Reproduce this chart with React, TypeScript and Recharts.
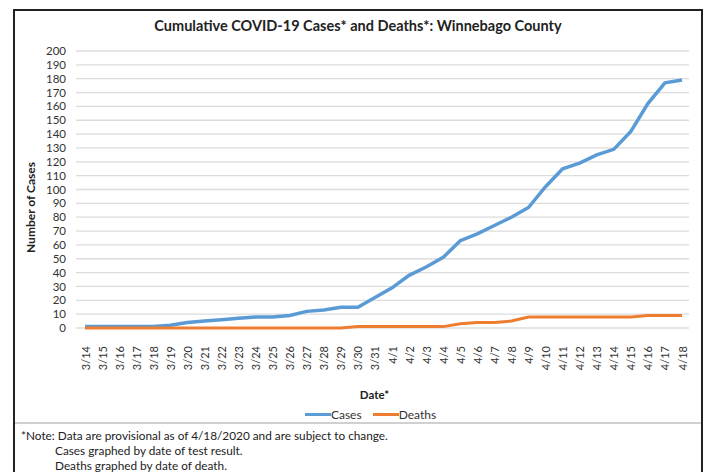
import { LineChart, Line, XAxis, YAxis, CartesianGrid, Legend, Label } from 'recharts';

const dates = [
  '3/14', '3/15', '3/16', '3/17', '3/18', '3/19', '3/20', '3/21', '3/22', '3/23', '3/24', '3/25',
  '3/26', '3/27', '3/28', '3/29', '3/30', '3/31', '4/1', '4/2', '4/3', '4/4', '4/5', '4/6',
  '4/7', '4/8', '4/9', '4/10', '4/11', '4/12', '4/13', '4/14', '4/15', '4/16', '4/17', '4/18',
];
const cases = [
  1, 1, 1, 1, 1, 2, 4, 5, 6, 7, 8, 8, 9, 12, 13, 15, 15, 22, 29, 38, 44, 51, 63, 68, 74, 80, 87,
  102, 115, 119, 125, 129, 142, 162, 177, 179,
];
const deaths = [
  0, 0, 0, 0, 0, 0, 0, 0, 0, 0, 0, 0, 0, 0, 0, 0, 1, 1, 1, 1, 1, 1, 3, 4, 4, 5, 8, 8, 8, 8, 8, 8,
  8, 9, 9, 9,
];
const yTicks = [0, 10, 20, 30, 40, 50, 60, 70, 80, 90, 100, 110, 120, 130, 140, 150, 160, 170, 180, 190, 200];

const title = 'Cumulative COVID-19 Cases* and Deaths*: Winnebago County';
const notes = [
  '*Note: Data are provisional as of 4/18/2020 and are subject to change.',
  'Cases graphed by date of test result.',
  'Deaths graphed by date of death.',
];

const data = dates.map((d, i) => ({ date: d, Cases: cases[i], Deaths: deaths[i] }));

const FONT = 'Lato, "Open Sans", sans-serif';
const BLUE = '#5b9bd5';
const ORANGE = '#ed7d31';

function DateTick(props: any) {
  const { x, y, payload } = props;
  return (
    <text
      x={x}
      y={y + 10}
      transform={`rotate(-90, ${x}, ${y + 10})`}
      textAnchor="end"
      dominantBaseline="central"
      fontSize={11}
      fontFamily={FONT}
      fill="#333"
    >
      {payload.value}
    </text>
  );
}

function LegendBox() {
  const item = (color: string, name: string, gap: number) => (
    <span style={{ display: 'inline-flex', alignItems: 'center', marginLeft: gap }}>
      <span style={{ display: 'inline-block', width: 26, height: 3, background: color }} />
      <span>{name}</span>
    </span>
  );
  return (
    <div
      style={{
        height: 18,
        lineHeight: '18px',
        fontSize: 12,
        fontFamily: FONT,
        color: '#333',
        textAlign: 'center',
        paddingLeft: 40,
      }}
    >
      {item(BLUE, 'Cases', 0)}
      {item(ORANGE, 'Deaths', 11)}
    </div>
  );
}

export default function App() {
  return (
    <div style={{ position: 'absolute', left: 0, top: 0, width: 709, height: 472, background: '#fff', overflow: 'hidden' }}>
      <div
        style={{
          position: 'absolute',
          left: 13,
          top: 9,
          width: 686,
          height: 480,
          border: '2px solid #222',
        }}
      />
      <div
        style={{
          position: 'absolute',
          left: 0,
          top: 17,
          width: 716,
          textAlign: 'center',
          fontFamily: FONT,
          fontWeight: 700,
          fontSize: 14.5,
          color: '#222',
        }}
      >
        {title}
      </div>
      <div style={{ position: 'absolute', left: 0, top: 0 }}>
        <LineChart width={709} height={472} data={data} margin={{ top: 51, right: 20, bottom: 51, left: 12 }}>
          <CartesianGrid vertical={false} stroke="#dcdcdc" strokeWidth={1.3} />
          <XAxis
            dataKey="date"
            interval={0}
            axisLine={false}
            tickLine={false}
            height={75}
            padding={{ left: 9, right: 7 }}
            tick={<DateTick />}
          >
            <Label
              content={(p: any) => {
                const vb = p.viewBox;
                return (
                  <text
                    x={vb.x + vb.width / 2 - 8}
                    y={vb.y + 71}
                    textAnchor="middle"
                    fontSize={11.5}
                    fontWeight={700}
                    fontFamily={FONT}
                    fill="#222"
                  >
                    Date*
                  </text>
                );
              }}
            />
          </XAxis>
          <YAxis
            domain={[0, 200]}
            ticks={yTicks}
            interval={0}
            width={64}
            axisLine={false}
            tickLine={false}
            tickSize={0}
            tickMargin={10}
            tick={{ fontSize: 11.5, fontFamily: FONT, fill: '#333' }}
          >
            <Label
              content={(p: any) => {
                const vb = p.viewBox;
                const cx = 30;
                const cy = vb.y + vb.height / 2 + 18;
                return (
                  <text
                    x={cx}
                    y={cy}
                    transform={`rotate(-90, ${cx}, ${cy})`}
                    textAnchor="middle"
                    dominantBaseline="central"
                    fontSize={12}
                    fontWeight={700}
                    fontFamily={FONT}
                    fill="#222"
                  >
                    Number of Cases
                  </text>
                );
              }}
            />
          </YAxis>
          <Legend verticalAlign="bottom" content={<LegendBox />} />
          <Line type="linear" dataKey="Cases" stroke={BLUE} strokeWidth={3.5} dot={false} isAnimationActive={false} />
          <Line type="linear" dataKey="Deaths" stroke={ORANGE} strokeWidth={3} dot={false} isAnimationActive={false} />
        </LineChart>
      </div>
      <div style={{ position: 'absolute', left: 15, top: 422, width: 686, height: 2, background: '#d0d0d0' }} />
      <div style={{ position: 'absolute', left: 21, top: 429, fontFamily: FONT, fontSize: 11.8, color: '#222', lineHeight: '14.8px' }}>
        <div>{notes[0]}</div>
        <div style={{ paddingLeft: 34 }}>{notes[1]}</div>
        <div style={{ paddingLeft: 34 }}>{notes[2]}</div>
      </div>
    </div>
  );
}
